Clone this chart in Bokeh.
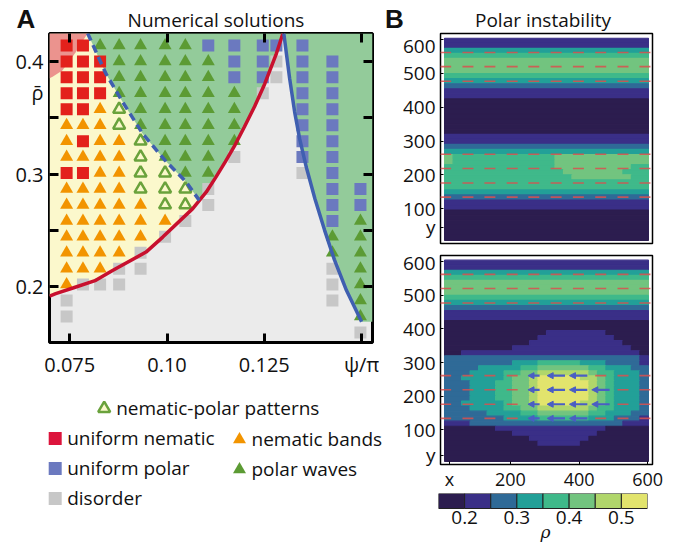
from bokeh.plotting import figure
from bokeh.layouts import row, column
from bokeh.models import (Range1d, FixedTicker, LinearAxis, ColumnDataSource,
                          Arrow, NormalHead)
from bokeh.embed import file_html
from bokeh.resources import INLINE
from bokeh.core.properties import value

FONT = "Open Sans"
PANEL_FONT = "Liberation Sans"

# ---------------- Panel A : phase diagram data ----------------
psi_cols = [0.0742, 0.0784, 0.0828, 0.0877, 0.0932, 0.0995, 0.1047,
            0.1106, 0.1173, 0.1246, 0.1281, 0.1348, 0.1425, 0.1497]
rho_rows = [0.4142, 0.4000, 0.3859, 0.3717, 0.3575, 0.3434, 0.3292, 0.3151,
            0.3009, 0.2867, 0.2726, 0.2584, 0.2443, 0.2301, 0.2159, 0.2018,
            0.1876, 0.1735, 0.1593]
# R uniform nematic, B uniform polar, D disorder, O nematic bands,
# G polar waves, P nematic-polar patterns, . no simulation
phase_grid = [
    "RRGGGGGBBBBB..",
    "RRRGGGGGBBDBB.",
    "RRRGGGGGBBDBB.",
    "RRRGGGGGGD.BB.",
    "RROPGGGGG..BB.",
    "OOOPGGGGG..BB.",
    "OROOPGGGG..BB.",
    "OOOOPGGGD..BB.",
    "RROOPPGG...DB.",
    "OOOOPPPD....BB",
    "OOOOOPPD....BB",
    "OOOOOOD.....BG",
    "OOOOOD......GG",
    "OOOOD.......GG",
    "OOODD.......DG",
    "ODDD........DG",
    "D...........DG",
    "D............G",
    ".............D",
]
red_psi = [0.0698, 0.0714, 0.0760, 0.0817, 0.0860, 0.0946, 0.0989, 0.1066,
           0.1101, 0.1126, 0.1150, 0.1175, 0.1199, 0.1225, 0.1251, 0.1281, 0.1298]
red_rho = [0.1915, 0.1938, 0.1990, 0.2056, 0.2144, 0.2307, 0.2440, 0.2693,
           0.2841, 0.2975, 0.3110, 0.3260, 0.3420, 0.3600, 0.3800, 0.4070, 0.4250]
blue_psi = [0.1300, 0.1315, 0.1328, 0.1341, 0.1358, 0.1380, 0.1405, 0.1430, 0.1461, 0.1500]
blue_rho = [0.4250, 0.3850, 0.3550, 0.3310, 0.3060, 0.2780, 0.2500, 0.2240, 0.1967, 0.1688]
dash_psi = [0.0796, 0.0843, 0.0886, 0.0937, 0.0994, 0.1049, 0.1083]
dash_rho = [0.4250, 0.3891, 0.3640, 0.3360, 0.3125, 0.2930, 0.2766]
nem_psi = [0.0698, 0.0796, 0.0765, 0.0731, 0.0706, 0.0698]
nem_rho = [0.4250, 0.4250, 0.4080, 0.3920, 0.3863, 0.3850]

psi_ticks = [0.075, 0.10, 0.125, 0.15]
psi_tick_labels = ["0.075", "0.10", "0.125", "\u03c8/\u03c0"]
rho_ticks = [0.20, 0.25, 0.30, 0.35, 0.40]
rho_label_ticks = [0.20, 0.30, 0.372, 0.40]
rho_tick_labels = ["0.2", "0.3", "\u03c1\u0304", "0.4"]
PSI_MIN, PSI_MAX = 0.0698, 0.1528
RHO_MIN, RHO_MAX = 0.1504, 0.4248

legend_labels = ["nematic-polar patterns", "uniform nematic", "nematic bands",
                 "uniform polar", "polar waves", "disorder"]

# ---------------- Panel B : density fields ----------------
FIELD_X0, FIELD_X1 = 8, 602
FIELD_Y0, FIELD_Y1 = 6, 604
# density level 1..8 (bins of 0.05 from 0.15 to 0.55), rows from top (y=600) to bottom
field_top = [
    "222222222222222222222222",
    "222222222222222222222222",
    "444444444444444444444444",
    "555555555555555555555555",
    "666666666666666666666666",
    "666666666666666666666666",
    "666666666666666666666666",
    "555555555555555555555555",
    "444444444444444444444444",
    "333333333333333333333333",
    "222222222222222222222222",
    "222222222222222222222222",
    "111111111111111111111111",
    "111111111111111111111111",
    "111111111111111111111111",
    "111111111111111111111111",
    "111111111111111111111111",
    "111111111111111111111111",
    "111111111111111111111111",
    "222222222222222222222222",
    "222222222222222222222222",
    "333333333333333333333333",
    "444444444444444444444444",
    "655555555555566666666666",
    "655555555555566666666666",
    "555555555555566666666655",
    "555555555555556666666555",
    "555555555555555666666655",
    "555555555555555555555555",
    "555555555555555555555555",
    "444444444444444444444444",
    "333333333333333333333333",
    "222222222222222222222222",
    "222222222222222222222222",
    "111111111111111111111111",
    "111111111111111111111111",
    "111111111111111111111111",
    "111111111111111111111111",
    "111111111111111111111111",
    "111111111111111111111111",
]
field_bottom = [
    "222222222222222222222222",
    "222222222222222222222222",
    "444444444444444444444444",
    "555555555555555555555555",
    "666666666666666666666666",
    "666666666666666666666666",
    "666666666666666666666666",
    "555555555555555555555555",
    "444444444444444444444444",
    "333333333333333333333333",
    "222222222222222222222222",
    "222222222222222222222222",
    "111111111111111111111111",
    "111111111111111111111111",
    "111111111111222222211111",
    "111111111112222222221111",
    "111111111122222222222111",
    "111111112222222222222211",
    "112222222222222222222221",
    "333333333333333333333332",
    "333333334445555544433332",
    "333344444556666665544433",
    "333444455667777776554443",
    "334444456678888877654443",
    "333444556678888887654443",
    "333444556678888887654443",
    "333444556678888887654443",
    "333444556678888887654443",
    "334444456678888877654443",
    "333444455667777776554443",
    "333334444556666665544433",
    "333333344445555554443332",
    "222333333333333333333222",
    "111111222222222222211111",
    "111111112222222222111111",
    "111111111122222221111111",
    "111111111112222211111111",
    "111111111111111111111111",
    "111111111111111111111111",
    "111111111111111111111111",
]
quiver_x = [11, 76, 140, 205, 268, 333, 398, 463, 528, 592]
quiver_y = [562, 520, 477, 261, 219, 176, 134]
quiver_top = ["rrrrrrrrrr", "rrrrrrrrrr", "rrrrrrrrrr", "rrrrrrrrrr",
              "rrrrrrrrrr", "rrrrrrrrrr", "rrrrrrrrrr"]
quiver_bottom = ["rrrrrrrrrr", "rrrrrrrrrr", "rrrrrrrrrr", "rrrrsbbrrr",
                 "rrrrsbbbrr", "rrrrsbbbrr", "rrrrsbbrrr"]
field_y_ticks_top = [45, 100, 200, 300, 400, 500, 600]
field_y_ticks_bottom = [25, 100, 200, 300, 400, 500, 600]
field_y_labels = ["y", "100", "200", "300", "400", "500", "600"]
field_x_ticks = [22, 200, 400, 600]
field_x_labels = ["x", "200", "400", "600"]
cbar_edges = [0.15, 0.20, 0.25, 0.30, 0.35, 0.40, 0.45, 0.50, 0.55]
cbar_ticks = [0.2, 0.3, 0.4, 0.5]
cbar_labels = ["0.2", "0.3", "0.4", "0.5"]
cbar_title_pos = 0.355

# ---------------- styles ----------------
PAL = ["#2c1d4f", "#3a2f87", "#2f6a97", "#22a098", "#3fb98a", "#72c47f", "#b0d66b", "#e2e46d"]
C_RED = "#e3211c"
C_CRIMSON = "#dc143c"
C_BLUE = "#6b79bf"
C_GRAY = "#c7c7c7"
C_ORANGE = "#f29400"
C_GREEN = "#5c9b34"
C_OPEN = "#6aa23c"
BG_GRAY = "#ebebeb"
BG_YELLOW = "#fbf8cc"
BG_GREEN = "#93cb9a"
BG_PINK = "#e98787"
CURVE_RED = "#c8102e"
CURVE_BLUE = "#3f5fb0"
TXT = "#111111"
DASH_HALF = 16
ARROW_LEN = {"s": 34, "b": 52}
LEFT_W, RIGHT_W = 384, 294


def blank_fig(w, h, **kw):
    p = figure(width=w, height=h, x_range=Range1d(0, w), y_range=Range1d(h, 0),
               output_backend="svg", toolbar_location=None, min_border=0,
               x_axis_location=None, y_axis_location=None, outline_line_color=None,
               frame_align=False, **kw)
    p.grid.visible = False
    return p


def text(p, x, y, s, size="19px", style="normal", align="center", font=FONT):
    p.text([x], [y], text=[s], text_font=value(font), text_font_size=size,
           text_font_style=style, text_align=align, text_baseline="middle",
           text_color=TXT)


def style_axis(ax, size="20px", tick_in=9, width=3, labels=True, standoff=6):
    ax.major_label_text_font = FONT
    ax.major_label_text_font_size = size if labels else "0px"
    ax.major_label_text_color = TXT
    ax.major_label_standoff = standoff if labels else 0
    ax.major_tick_in = tick_in
    ax.major_tick_out = 0
    ax.major_tick_line_width = width
    ax.major_tick_line_color = "black" if tick_in > 0 else None
    ax.minor_tick_line_color = None
    ax.axis_line_color = None


def make_axis(ticks, labels=None, **kw):
    ax = LinearAxis(ticker=FixedTicker(ticks=ticks))
    style_axis(ax, labels=labels is not None, **kw)
    if labels is not None:
        ax.major_label_overrides = dict(zip(ticks, labels))
    else:
        ax.major_label_overrides = {t: "" for t in ticks}
    return ax


# ================= Panel A =================
tA = blank_fig(LEFT_W, 32)
text(tA, 25.5, 18, "A", size="26px", style="bold", font=PANEL_FONT)
text(tA, 215.5, 19, "Numerical solutions")

pA = figure(width=LEFT_W, height=348,
            x_range=Range1d(PSI_MIN, PSI_MAX), y_range=Range1d(RHO_MIN, RHO_MAX),
            output_backend="svg", toolbar_location=None,
            x_axis_location=None, y_axis_location=None, frame_align=False,
            min_border_left=49, min_border_right=12, min_border_top=1, min_border_bottom=37,
            background_fill_color=BG_GRAY, border_fill_color="white",
            outline_line_color="black", outline_line_width=3)
pA.grid.visible = False

split = dash_psi[-1]
red_lo = [(x, y) for x, y in zip(red_psi, red_rho) if x <= split]
red_hi = [(x, y) for x, y in zip(red_psi, red_rho) if x > split]
yel_x = [PSI_MIN] + dash_psi + [x for x, _ in reversed(red_lo)]
yel_y = [RHO_MAX] + dash_rho + [y for _, y in reversed(red_lo)]
pA.patch(yel_x, yel_y, fill_color=BG_YELLOW, line_color=None)
g1_x = dash_psi + [x for x, _ in red_hi]
g1_y = dash_rho + [y for _, y in red_hi]
pA.patch(g1_x, g1_y, fill_color=BG_GREEN, line_color=None)
g2_x = blue_psi + [PSI_MAX, PSI_MAX]
g2_y = blue_rho + [blue_rho[-1], RHO_MAX]
pA.patch(g2_x, g2_y, fill_color=BG_GREEN, line_color=None)
pA.patch(nem_psi, nem_rho, fill_color=BG_PINK, line_color=None, fill_alpha=0.9)

cats = {k: ([], []) for k in "RBDOGP"}
for k, s in enumerate(phase_grid):
    for c, ch in enumerate(s):
        if ch in cats:
            cats[ch][0].append(psi_cols[c])
            cats[ch][1].append(rho_rows[k])

pA.scatter(*cats["D"], marker="square", size=12, fill_color=C_GRAY, line_color=None)
pA.scatter(*cats["B"], marker="square", size=12, fill_color=C_BLUE, line_color=None)
pA.scatter(*cats["R"], marker="square", size=12, fill_color=C_RED, line_color=None)
pA.scatter(*cats["O"], marker="triangle", size=13, fill_color=C_ORANGE, line_color=None)
pA.scatter(*cats["G"], marker="triangle", size=13, fill_color=C_GREEN, line_color=None)
pA.scatter(*cats["P"], marker="triangle", size=12, fill_color=BG_YELLOW, line_color=C_OPEN,
           line_width=2.5)

pA.line(red_psi, red_rho, line_color=CURVE_RED, line_width=3.5)
pA.line(blue_psi, blue_rho, line_color=CURVE_BLUE, line_width=3.5)
pA.line(dash_psi, dash_rho, line_color=CURVE_BLUE, line_width=3.5, line_dash="8 5")

pA.add_layout(make_axis(psi_ticks, psi_tick_labels, standoff=8), "below")
pA.add_layout(make_axis(rho_ticks), "left")
pA.add_layout(make_axis(rho_label_ticks, rho_tick_labels, tick_in=0, standoff=6), "left")
pA.add_layout(make_axis(psi_ticks), "above")
pA.add_layout(make_axis(rho_ticks), "right")

# legend panel
pL = blank_fig(LEFT_W, 164)
leg = [  # label index, marker, fill, line, x, y
    (0, "triangle", BG_YELLOW, C_OPEN, 103.7, 28),
    (1, "square", C_CRIMSON, None, 54.7, 58),
    (2, "triangle", C_ORANGE, None, 239, 59),
    (3, "square", C_BLUE, None, 54.7, 88),
    (4, "triangle", C_GREEN, None, 239, 89),
    (5, "square", C_GRAY, None, 54.7, 118),
]
for idx, mk, fc, lc, x, y in leg:
    if mk == "square":
        pL.scatter([x], [y], marker="square", size=13, fill_color=fc, line_color=None)
    elif lc is None:
        pL.scatter([x], [y], marker="triangle", size=13, fill_color=fc, line_color=None)
    else:
        pL.scatter([x], [y], marker="triangle", size=12, fill_color=fc, line_color=lc,
                   line_width=2.5)
    text(pL, x + 12, y - 1, legend_labels[idx], align="left")

# ================= Panel B =================


def quads(rows):
    ncol = len(rows[0])
    nrow = len(rows)
    cw = (FIELD_X1 - FIELD_X0) / ncol
    rh = (FIELD_Y1 - FIELD_Y0) / nrow
    d = dict(left=[], right=[], bottom=[], top=[], color=[])
    for r, s in enumerate(rows):
        s = (s + s[-1] * ncol)[:ncol]
        top = FIELD_Y1 - r * rh
        c = 0
        while c < ncol:
            c2 = c
            while c2 < ncol and s[c2] == s[c]:
                c2 += 1
            d["left"].append(FIELD_X0 + c * cw)
            d["right"].append(FIELD_X0 + c2 * cw)
            d["top"].append(top)
            d["bottom"].append(top - rh)
            d["color"].append(PAL[int(s[c]) - 1])
            c = c2
    return d


def field_fig(rows, qrows, yticks, show_x, height, top_border, bottom_border):
    p = figure(width=RIGHT_W, height=height,
               x_range=Range1d(-4, 614), y_range=Range1d(-3, 618),
               output_backend="svg", toolbar_location=None,
               x_axis_location=None, y_axis_location=None, frame_align=False,
               min_border_left=56, min_border_right=RIGHT_W - 56 - 212,
               min_border_top=top_border, min_border_bottom=bottom_border,
               background_fill_color="white", outline_line_color="black",
               outline_line_width=1.5)
    p.grid.visible = False
    src = ColumnDataSource(quads(rows))
    p.quad(left="left", right="right", bottom="bottom", top="top", fill_color="color",
           line_color="color", line_width=1.2, source=src)
    sx0, sx1, sy = [], [], []
    ax0, ax1, ay = [], [], []
    for yv, s in zip(quiver_y, qrows):
        for xv, ch in zip(quiver_x, s):
            if ch == "r":
                sx0.append(xv - DASH_HALF)
                sx1.append(xv + DASH_HALF)
                sy.append(yv)
            elif ch in ARROW_LEN:
                L = ARROW_LEN[ch]
                ax0.append(xv + L / 2)
                ax1.append(xv - L / 2)
                ay.append(yv)
    p.segment(x0=sx0, y0=sy, x1=sx1, y1=sy, line_color="#d9504f", line_width=1.6,
              line_alpha=0.85)
    if ax0:
        asrc = ColumnDataSource(dict(x0=ax0, x1=ax1, y=ay))
        p.add_layout(Arrow(end=NormalHead(size=6, fill_color="#4a5ec4", line_color="#4a5ec4"),
                           x_start="x0", y_start="y", x_end="x1", y_end="y", source=asrc,
                           line_color="#4a5ec4", line_width=2.2))
    p.add_layout(make_axis(yticks, field_y_labels, size="19px", tick_in=3, width=1,
                           standoff=5), "left")
    if show_x:
        p.add_layout(make_axis(field_x_ticks, field_x_labels, size="18px", tick_in=3,
                               width=1, standoff=2), "below")
    return p


tB = blank_fig(RIGHT_W, 32)
text(tB, 10, 18, "B", size="26px", style="bold", font=PANEL_FONT)
text(tB, 158.5, 19, "Polar instability")

pB1 = field_fig(field_top, quiver_top, field_y_ticks_top, False, 217, 1, 6)
pB2 = field_fig(field_bottom, quiver_bottom, field_y_ticks_bottom, True, 244, 6, 28)

pC = figure(width=RIGHT_W, height=51, x_range=Range1d(0.15, 0.55), y_range=Range1d(-2.4, 1),
            output_backend="svg", toolbar_location=None, x_axis_location=None,
            y_axis_location=None, frame_align=False, min_border_left=54,
            min_border_right=RIGHT_W - 54 - 209,
            min_border_top=0, min_border_bottom=0, outline_line_color=None)
pC.grid.visible = False
pC.quad(left=cbar_edges[:-1], right=cbar_edges[1:], bottom=0, top=1, fill_color=PAL,
        line_color="#222222", line_width=1)
pC.text(cbar_ticks, [-0.6] * len(cbar_ticks), text=cbar_labels, text_font=value(FONT),
        text_font_size="19px", text_align="center", text_baseline="middle", text_color=TXT)
pC.text([cbar_title_pos], [-1.55], text=["\u03c1"], text_font=value("DejaVu Serif"),
        text_font_size="17px", text_font_style="italic", text_align="center",
        text_baseline="middle", text_color=TXT)

layout = row(column(tA, pA, pL), column(tB, pB1, pB2, pC))
open("out.html", "w").write(file_html(layout, INLINE))
